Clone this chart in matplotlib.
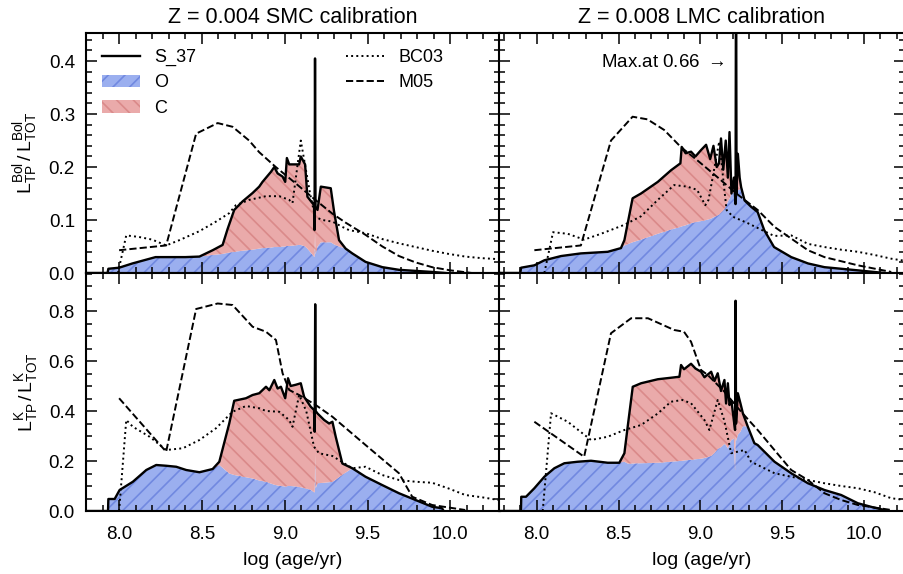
import numpy as np
import matplotlib
matplotlib.use('Agg')
import matplotlib.pyplot as plt
from matplotlib.ticker import MultipleLocator

plt.rcParams['font.family'] = ['Liberation Sans', 'DejaVu Sans']
plt.rcParams['mathtext.fontset'] = 'custom'
plt.rcParams['mathtext.rm'] = 'Liberation Sans'
plt.rcParams['mathtext.it'] = 'Liberation Sans:italic'
plt.rcParams['mathtext.bf'] = 'Liberation Sans:bold'
plt.rcParams['hatch.linewidth'] = 1.2

# ---------------- data: top-left (Z=0.004, bolometric) ----------------
x_tl = [7.800, 7.930, 7.935, 8.000, 8.080, 8.220, 8.400, 8.485, 8.565, 8.625, 8.655, 8.695, 8.745,
        8.806, 8.846, 8.866, 8.917, 8.937, 8.957, 8.987, 9.003, 9.013, 9.027, 9.087, 9.097,
        9.123, 9.137, 9.177, 9.180, 9.183, 9.186, 9.198, 9.218, 9.278, 9.298, 9.328, 9.368,
        9.408, 9.488, 9.590, 9.690, 9.890, 9.970]
s37_tl = [0.000, 0.000, 0.008, 0.010, 0.018, 0.030, 0.030, 0.031, 0.043, 0.053, 0.083, 0.119, 0.135,
          0.151, 0.163, 0.172, 0.191, 0.200, 0.188, 0.182, 0.172, 0.217, 0.205, 0.205, 0.220,
          0.205, 0.144, 0.128, 0.081, 0.405, 0.125, 0.119, 0.163, 0.160, 0.116, 0.062, 0.046,
          0.037, 0.021, 0.011, 0.006, 0.002, 0.000]
o_tl = [0.000, 0.000, 0.008, 0.010, 0.018, 0.030, 0.030, 0.031, 0.034, 0.036, 0.038, 0.040, 0.042,
        0.044, 0.046, 0.047, 0.048, 0.049, 0.049, 0.050, 0.050, 0.051, 0.051, 0.053, 0.053,
        0.050, 0.046, 0.031, 0.030, 0.075, 0.035, 0.050, 0.058, 0.058, 0.054, 0.050, 0.046,
        0.037, 0.021, 0.011, 0.006, 0.002, 0.000]
xbc_tl = [7.993, 8.043, 8.120, 8.200, 8.284, 8.364, 8.485, 8.585, 8.665, 8.705, 8.786, 8.886,
          8.967, 9.027, 9.047, 9.097, 9.153, 9.183, 9.228, 9.288, 9.348, 9.388, 9.490, 9.590,
          9.690, 9.790, 9.890, 9.990, 10.090, 10.190, 10.300]
bc_tl = [0.000, 0.071, 0.068, 0.063, 0.052, 0.062, 0.079, 0.097, 0.113, 0.128, 0.138, 0.145,
         0.145, 0.138, 0.132, 0.250, 0.150, 0.106, 0.100, 0.097, 0.087, 0.081, 0.075, 0.064,
         0.056, 0.049, 0.042, 0.036, 0.031, 0.028, 0.026]
xm_tl = [8.000, 8.284, 8.465, 8.595, 8.685, 8.785, 8.846, 8.946, 9.067, 9.177, 9.288, 9.368,
         9.488, 9.590, 9.690, 9.790, 9.890, 10.000, 10.130]
m05_tl = [0.043, 0.052, 0.263, 0.283, 0.276, 0.250, 0.228, 0.200, 0.169, 0.140, 0.112, 0.095,
          0.072, 0.050, 0.032, 0.020, 0.011, 0.005, 0.000]

# ---------------- data: top-right (Z=0.008, bolometric) ----------------
x_tr = [7.770, 7.900, 7.905, 7.986, 8.047, 8.149, 8.270, 8.434, 8.515, 8.536, 8.586, 8.637, 8.740,
        8.821, 8.878, 8.886, 8.910, 8.943, 8.970, 9.004, 9.035, 9.060, 9.080, 9.100, 9.114,
        9.126, 9.140, 9.155, 9.168, 9.178, 9.190, 9.205, 9.215, 9.218, 9.221, 9.229, 9.240,
        9.249, 9.270, 9.310, 9.350, 9.390, 9.450, 9.555, 9.658, 9.758, 9.962, 10.125]
s37_tr = [0.000, 0.000, 0.010, 0.0145, 0.024, 0.032, 0.037, 0.040, 0.047, 0.062, 0.141, 0.150, 0.172,
          0.194, 0.207, 0.238, 0.226, 0.229, 0.220, 0.232, 0.242, 0.215, 0.240, 0.200, 0.207,
          0.254, 0.195, 0.250, 0.180, 0.266, 0.150, 0.180, 0.130, 0.660, 0.150, 0.225, 0.180,
          0.162, 0.137, 0.125, 0.115, 0.081, 0.049, 0.030, 0.018, 0.011, 0.005, 0.000]
o_tr = [0.000, 0.000, 0.010, 0.0145, 0.024, 0.032, 0.037, 0.040, 0.047, 0.052, 0.058, 0.063, 0.074,
        0.082, 0.087, 0.088, 0.090, 0.094, 0.096, 0.098, 0.100, 0.102, 0.105, 0.108, 0.110,
        0.114, 0.118, 0.125, 0.135, 0.140, 0.150, 0.152, 0.125, 0.156, 0.145, 0.156, 0.158,
        0.162, 0.137, 0.125, 0.115, 0.081, 0.049, 0.030, 0.018, 0.011, 0.005, 0.000]
xbc_tr = [8.047, 8.100, 8.190, 8.290, 8.393, 8.536, 8.637, 8.740, 8.840, 8.920, 8.980, 9.030,
          9.050, 9.115, 9.160, 9.200, 9.290, 9.350, 9.450, 9.555, 9.657, 9.758, 9.860, 9.962,
          10.064, 10.166, 10.250]
bc_tr = [0.000, 0.077, 0.074, 0.063, 0.074, 0.091, 0.107, 0.138, 0.166, 0.163, 0.157, 0.128,
         0.138, 0.248, 0.119, 0.106, 0.094, 0.085, 0.070, 0.071, 0.055, 0.049, 0.044, 0.040,
         0.034, 0.027, 0.023]
xm_tr = [7.986, 8.270, 8.454, 8.586, 8.677, 8.779, 8.880, 8.980, 9.100, 9.220, 9.350, 9.453,
         9.555, 9.657, 9.758, 9.962, 10.166]
m05_tr = [0.043, 0.052, 0.250, 0.295, 0.290, 0.270, 0.238, 0.213, 0.182, 0.150, 0.119, 0.087,
          0.065, 0.043, 0.030, 0.0145, 0.002]

# ---------------- data: bottom-left (Z=0.004, K band) ----------------
x_bl = [7.800, 7.933, 7.935, 7.973, 8.003, 8.083, 8.164, 8.224, 8.284, 8.345, 8.405, 8.485, 8.565,
        8.605, 8.665, 8.695, 8.766, 8.806, 8.846, 8.887, 8.907, 8.937, 8.957, 8.977, 9.003,
        9.020, 9.036, 9.067, 9.097, 9.117, 9.157, 9.177, 9.181, 9.184, 9.187, 9.198, 9.238,
        9.268, 9.288, 9.308, 9.348, 9.408, 9.488, 9.588, 9.690, 9.790, 9.890, 9.950, 9.960]
s37_bl = [0.000, 0.000, 0.048, 0.048, 0.084, 0.117, 0.164, 0.184, 0.181, 0.177, 0.164, 0.155, 0.168,
          0.197, 0.350, 0.441, 0.451, 0.464, 0.471, 0.497, 0.483, 0.524, 0.490, 0.497, 0.451,
          0.531, 0.500, 0.505, 0.511, 0.457, 0.417, 0.404, 0.317, 0.827, 0.400, 0.390, 0.364,
          0.350, 0.357, 0.297, 0.190, 0.171, 0.137, 0.104, 0.071, 0.044, 0.017, 0.011, 0.000]
o_bl = [0.000, 0.000, 0.048, 0.048, 0.084, 0.117, 0.164, 0.184, 0.181, 0.177, 0.164, 0.155, 0.168,
        0.184, 0.150, 0.144, 0.135, 0.130, 0.122, 0.117, 0.112, 0.105, 0.102, 0.100, 0.098,
        0.100, 0.100, 0.098, 0.095, 0.092, 0.085, 0.075, 0.075, 0.230, 0.090, 0.111, 0.113,
        0.115, 0.117, 0.125, 0.145, 0.171, 0.137, 0.104, 0.071, 0.044, 0.017, 0.011, 0.000]
xbc_bl = [8.000, 8.043, 8.083, 8.184, 8.284, 8.385, 8.485, 8.585, 8.685, 8.766, 8.846, 8.887,
          8.967, 9.027, 9.047, 9.087, 9.130, 9.177, 9.207, 9.288, 9.408, 9.488, 9.588, 9.690,
          9.790, 9.890, 9.990, 10.090, 10.190, 10.290]
bc_bl = [0.000, 0.364, 0.337, 0.297, 0.244, 0.251, 0.284, 0.331, 0.397, 0.420, 0.411, 0.400,
         0.397, 0.364, 0.337, 0.464, 0.400, 0.257, 0.231, 0.220, 0.171, 0.177, 0.144, 0.124,
         0.117, 0.113, 0.090, 0.064, 0.055, 0.044]
xm_bl = [8.000, 8.284, 8.465, 8.595, 8.685, 8.806, 8.887, 8.947, 8.987, 9.027, 9.087, 9.187,
         9.288, 9.488, 9.690, 9.770, 9.890, 10.090]
m05_bl = [0.451, 0.237, 0.808, 0.830, 0.824, 0.737, 0.717, 0.684, 0.551, 0.484, 0.464, 0.424,
          0.377, 0.264, 0.151, 0.057, 0.024, 0.004]

# ---------------- data: bottom-right (Z=0.008, K band) ----------------
x_br = [7.770, 7.904, 7.906, 7.935, 7.986, 8.047, 8.108, 8.169, 8.250, 8.332, 8.434, 8.505, 8.536,
        8.556, 8.587, 8.638, 8.740, 8.820, 8.872, 8.882, 8.900, 8.943, 8.970, 9.004, 9.025,
        9.066, 9.086, 9.106, 9.126, 9.147, 9.157, 9.168, 9.178, 9.190, 9.205, 9.212, 9.215,
        9.218, 9.229, 9.245, 9.260, 9.290, 9.330, 9.350, 9.453, 9.555, 9.657, 9.758, 9.860,
        9.962, 10.064, 10.125, 10.135]
s37_br = [0.000, 0.000, 0.057, 0.057, 0.091, 0.137, 0.171, 0.191, 0.197, 0.201, 0.193, 0.193, 0.231,
          0.337, 0.497, 0.511, 0.527, 0.533, 0.537, 0.584, 0.567, 0.589, 0.570, 0.557, 0.535,
          0.557, 0.520, 0.551, 0.480, 0.524, 0.430, 0.511, 0.424, 0.440, 0.360, 0.324, 0.841,
          0.350, 0.471, 0.430, 0.390, 0.337, 0.271, 0.264, 0.197, 0.151, 0.111, 0.084, 0.064,
          0.031, 0.013, 0.004, 0.000]
o_br = [0.000, 0.000, 0.057, 0.057, 0.091, 0.137, 0.171, 0.191, 0.197, 0.201, 0.193, 0.193, 0.197,
        0.190, 0.190, 0.191, 0.193, 0.197, 0.200, 0.200, 0.202, 0.205, 0.207, 0.209, 0.212,
        0.220, 0.232, 0.248, 0.255, 0.268, 0.262, 0.250, 0.270, 0.284, 0.290, 0.160, 0.300,
        0.280, 0.305, 0.317, 0.340, 0.337, 0.271, 0.264, 0.197, 0.151, 0.111, 0.084, 0.064,
        0.031, 0.013, 0.004, 0.000]
xbc_br = [8.037, 8.088, 8.190, 8.332, 8.434, 8.536, 8.638, 8.740, 8.820, 8.890, 8.943, 9.025,
          9.055, 9.106, 9.147, 9.188, 9.270, 9.310, 9.453, 9.555, 9.657, 9.758, 9.860, 9.962,
          10.064, 10.166, 10.250]
bc_br = [0.000, 0.391, 0.357, 0.284, 0.297, 0.324, 0.344, 0.390, 0.437, 0.444, 0.431, 0.364,
         0.324, 0.444, 0.360, 0.231, 0.244, 0.197, 0.151, 0.137, 0.124, 0.111, 0.100, 0.091,
         0.075, 0.051, 0.044]
xm_br = [7.986, 8.290, 8.454, 8.577, 8.680, 8.840, 8.900, 8.943, 9.004, 9.045, 9.147, 9.249,
         9.350, 9.555, 9.657, 9.758, 9.860, 9.962, 10.166]
m05_br = [0.357, 0.217, 0.711, 0.771, 0.771, 0.724, 0.717, 0.677, 0.564, 0.544, 0.477, 0.397,
          0.324, 0.164, 0.124, 0.071, 0.044, 0.024, 0.004]

titles = ['Z = 0.004 SMC calibration', 'Z = 0.008 LMC calibration']
ylabels = [r'$\mathrm{L^{Bol}_{TP}\,/\,L^{Bol}_{TOT}}$', r'$\mathrm{L^{K}_{TP}\,/\,L^{K}_{TOT}}$']
legend_labels = ['S_37', 'O', 'C', 'BC03', 'M05']

BLUE, BLUE_H = '#9bafef', '#7189e0'
RED, RED_H = '#eaaaaa', '#da8a8a'

W, H = 904, 574
fig = plt.figure(figsize=(W / 100, H / 100), dpi=100)


def add_ax(l, t, r, b):
    return fig.add_axes([l / W, 1 - b / H, (r - l) / W, (b - t) / H])


ax_tl = add_ax(86, 33, 500, 273)
ax_tr = add_ax(499, 33, 905, 273)
ax_bl = add_ax(86, 273, 500, 511)
ax_br = add_ax(499, 273, 905, 511)


def panel(ax, x, tot, o, xb, yb, xm, ym):
    x = np.asarray(x)
    tot = np.asarray(tot)
    o = np.asarray(o)
    hO = ax.fill_between(x, 0, o, facecolor=BLUE, edgecolor=BLUE_H, hatch='//',
                         linewidth=0, zorder=1)
    hC = ax.fill_between(x, o, tot, facecolor=RED, edgecolor=RED_H, hatch='\\\\',
                         linewidth=0, zorder=1)
    hB, = ax.plot(xb, yb, color='k', ls=':', lw=1.4, zorder=2)
    hM, = ax.plot(xm, ym, color='k', ls='--', lw=1.4, zorder=2)
    hS, = ax.plot(x, tot, color='k', lw=1.7, zorder=3)
    return [hS, hO, hC, hB, hM]


handles = panel(ax_tl, x_tl, s37_tl, o_tl, xbc_tl, bc_tl, xm_tl, m05_tl)
panel(ax_tr, x_tr, s37_tr, o_tr, xbc_tr, bc_tr, xm_tr, m05_tr)
panel(ax_bl, x_bl, s37_bl, o_bl, xbc_bl, bc_bl, xm_bl, m05_bl)
panel(ax_br, x_br, s37_br, o_br, xbc_br, bc_br, xm_br, m05_br)

for ax in (ax_tl, ax_tr, ax_bl, ax_br):
    ax.xaxis.set_major_locator(MultipleLocator(0.5))
    ax.xaxis.set_minor_locator(MultipleLocator(0.1))
    ax.tick_params(which='both', direction='in', top=True, right=True, width=1.1)
    ax.tick_params(which='major', length=8, labelsize=13.5, pad=8)
    ax.tick_params(which='minor', length=4.5)
    ax.tick_params(axis='x', which='major', pad=11)
    for s in ax.spines.values():
        s.set_linewidth(1.5)

for ax in (ax_tl, ax_bl):
    ax.set_xlim(7.8, 10.3)
for ax in (ax_tr, ax_br):
    ax.set_xlim(7.77, 10.25)
for ax in (ax_tl, ax_tr):
    ax.set_ylim(0, 0.453)
    ax.yaxis.set_major_locator(MultipleLocator(0.1))
    ax.yaxis.set_minor_locator(MultipleLocator(0.02))
    ax.tick_params(labelbottom=False)
for ax in (ax_bl, ax_br):
    ax.set_ylim(0, 0.952)
    ax.yaxis.set_major_locator(MultipleLocator(0.2))
    ax.yaxis.set_minor_locator(MultipleLocator(0.05))
    ax.set_xlabel('log (age/yr)', fontsize=14, labelpad=6)
for ax in (ax_tr, ax_br):
    ax.tick_params(labelleft=False)

ax_tl.set_title(titles[0], fontsize=15.5, pad=7)
ax_tr.set_title(titles[1], fontsize=15.5, pad=7)
ax_tl.set_ylabel(ylabels[0], fontsize=14, labelpad=6)
ax_bl.set_ylabel(ylabels[1], fontsize=14, labelpad=6)

ax_tl.legend(handles, legend_labels, ncol=2, loc='upper left',
             bbox_to_anchor=(0.039, 0.933), borderaxespad=0, borderpad=0,
             frameon=False, fontsize=13, handlelength=2.1, handletextpad=0.8,
             columnspacing=8.3, labelspacing=0.45)

ax_tr.text(9.145, 0.397, 'Max.at 0.66 $\\rightarrow$', ha='right', va='center',
           fontsize=13.5)

fig.savefig('out.png', dpi=100)
